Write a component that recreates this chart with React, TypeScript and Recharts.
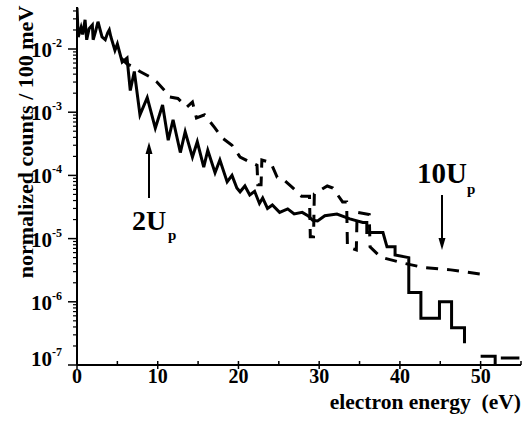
import { LineChart, Line, XAxis, YAxis } from "recharts";

// solid trace: energy (eV) and normalized counts
const solidEnergy = [
  0.0, 0.15, 0.5, 0.7, 1.0, 1.2, 1.5, 1.9, 2.0, 2.3, 2.6, 3.1, 3.5, 3.8, 4.0, 4.2, 4.7,
  5.0, 5.6, 6.2, 6.6, 7.1, 7.8, 8.7, 9.7, 10.6, 11.3, 11.9, 12.8, 13.4, 14.3, 14.9, 15.7,
  16.2, 17.1, 17.7, 18.6, 19.2, 19.8, 20.2, 20.8, 21.4, 22.0, 22.6, 23.0, 23.6, 24.2, 25.1,
  26.1, 26.9, 27.9, 28.6, 29.2, 29.8, 30.7, 32.2, 33.8, 35.4, 35.9, 35.9, 37.9, 38.4, 39.4,
  39.4, 41.1, 41.1, 42.6, 42.6, 44.9, 44.9, 46.4, 46.4, 48.0, 48.0, 48.1, 50.0, 51.8, 51.8,
  51.9, 52.5, 54.8,
];
const solidCounts = [
  4.5e-2, 1.55e-2, 2.2e-2, 1.7e-2, 2.9e-2, 1.4e-2, 2.1e-2, 2.4e-2, 1.4e-2, 1.9e-2, 2.7e-2,
  1.55e-2, 1.4e-2, 1.8e-2, 2.0e-2, 1.55e-2, 9.5e-3, 1.2e-2, 6.2e-3, 7.2e-3, 2.2e-3, 4.4e-3,
  9.1e-4, 1.7e-3, 5.6e-4, 1.3e-3, 3.6e-4, 7.6e-4, 2.3e-4, 4.9e-4, 1.95e-4, 3.4e-4, 1.35e-4,
  2.5e-4, 1.1e-4, 1.75e-4, 7.9e-5, 1.0e-4, 6.3e-5, 5.5e-5, 6.8e-5, 4.9e-5, 5.6e-5, 3.6e-5,
  4.4e-5, 3.0e-5, 3.4e-5, 2.6e-5, 2.95e-5, 2.45e-5, 2.6e-5, 2.3e-5, 1.95e-5, 1.9e-5, 2.3e-5,
  2.45e-5, 2.05e-5, 1.8e-5, 1.8e-5, 1.25e-5, 1.25e-5, 7.4e-6, 7.4e-6, 5.5e-6, 5.0e-6, 1.4e-6,
  1.4e-6, 5.5e-7, 5.5e-7, 1.0e-6, 1.0e-6, 3.9e-7, 3.9e-7, 2.2e-7, null, 1.38e-7, 1.38e-7,
  1.0e-7, null, 1.29e-7, 1.29e-7,
];

// dashed trace
const dashedEnergy = [
  5.5, 6.2, 7.0, 7.8, 8.9, 9.9, 11.0, 11.4, 12.5, 13.6, 14.3, 14.8, 15.8, 17.1, 18.0, 19.2,
  20.2, 21.5, 22.3, 22.4, 22.8, 22.9, 24.0, 24.8, 25.6, 26.6, 27.8, 28.8, 28.9, 29.3, 29.4,
  31.0, 31.7, 32.9, 33.4, 33.5, 34.6, 34.7, 36.2, 36.3, 37.6, 40.4, 42.9, 46.3, 49.9,
];
const dashedCounts = [
  7.1e-3, 5.8e-3, 5.2e-3, 4.4e-3, 3.7e-3, 3.0e-3, 2.1e-3, 1.75e-3, 1.65e-3, 1.2e-3, 1.45e-3,
  8.1e-4, 9.1e-4, 5.6e-4, 3.9e-4, 3.0e-4, 1.95e-4, 1.6e-4, 1.45e-4, 7.1e-5, 7.1e-5, 1.75e-4,
  1.6e-4, 9.3e-5, 8.5e-5, 6.6e-5, 4.7e-5, 4.7e-5, 1.07e-5, 1.07e-5, 5.1e-5, 6.8e-5, 6.3e-5,
  3.8e-5, 3.8e-5, 7.4e-6, 6.6e-6, 2.6e-5, 2.4e-5, 7.4e-6, 5.1e-6, 4.1e-6, 3.5e-6, 3.2e-6,
  2.75e-6,
];

const xMajor = [0, 10, 20, 30, 40, 50];
const xMinor = [5, 15, 25, 35, 45, 55];
const yMajor = [1e-7, 1e-6, 1e-5, 1e-4, 1e-3, 1e-2];
const yMinor = [
  2e-7, 3e-7, 4e-7, 5e-7, 6e-7, 7e-7, 8e-7, 9e-7,
  2e-6, 3e-6, 4e-6, 5e-6, 6e-6, 7e-6, 8e-6, 9e-6,
  2e-5, 3e-5, 4e-5, 5e-5, 6e-5, 7e-5, 8e-5, 9e-5,
  2e-4, 3e-4, 4e-4, 5e-4, 6e-4, 7e-4, 8e-4, 9e-4,
  2e-3, 3e-3, 4e-3, 5e-3, 6e-3, 7e-3, 8e-3, 9e-3,
  2e-2, 3e-2, 4e-2,
];

const solidData = solidEnergy.map((e, i) => ({ e, v: solidCounts[i] }));
const dashedData = dashedEnergy.map((e, i) => ({ e, v: dashedCounts[i] }));

const FONT = "'Liberation Serif', 'Times New Roman', serif";

const XTick = (props: any) => {
  const { x, y, payload } = props;
  const major = xMajor.includes(payload.value);
  return (
    <g>
      <line x1={x} x2={x} y1={y - 4} y2={major ? y + 4 : y} stroke="#000" strokeWidth={1.5} />
      {major && (
        <text x={x} y={y + 18} textAnchor="middle" fontFamily={FONT} fontWeight="bold" fontSize={20} fill="#000">
          {payload.value}
        </text>
      )}
    </g>
  );
};

const YTick = (props: any) => {
  const { x, y, payload } = props;
  const major = yMajor.includes(payload.value);
  if (!major) {
    return <line x1={x - 4} x2={x} y1={y} y2={y} stroke="#000" strokeWidth={1.2} />;
  }
  const exp = Math.round(Math.log10(payload.value));
  const base = exp === -7 ? y + 1 : y + 8;
  return (
    <g>
      <line x1={x - 9} x2={x} y1={y} y2={y} stroke="#000" strokeWidth={1.5} />
      <text x={x - 15} y={base} textAnchor="end" fontFamily={FONT} fontWeight="bold" fill="#000">
        <tspan fontSize={21}>10</tspan>
        <tspan fontSize={12} dy={-10}>{`-${-exp}`}</tspan>
      </text>
    </g>
  );
};

export default function App() {
  return (
    <div style={{ position: "absolute", left: 0, top: 0, width: 525, height: 423, background: "#fff" }}>
      <LineChart width={525} height={423} margin={{ top: 7, right: 4, left: 0, bottom: 0 }}>
        <XAxis
          type="number"
          dataKey="e"
          domain={[0, 55]}
          ticks={[...xMajor, ...xMinor].sort((a, b) => a - b)}
          interval={0}
          height={58}
          tickLine={false}
          tickSize={0}
          tickMargin={0}
          tick={<XTick />}
          axisLine={{ stroke: "#000", strokeWidth: 2 }}
          allowDataOverflow
        />
        <YAxis
          type="number"
          scale="log"
          domain={[1e-7, 0.0462]}
          ticks={[...yMajor, ...yMinor].sort((a, b) => a - b)}
          interval={0}
          width={77}
          tickLine={false}
          tickSize={0}
          tickMargin={0}
          tick={<YTick />}
          axisLine={{ stroke: "#000", strokeWidth: 2 }}
          allowDataOverflow
        />
        <Line
          data={dashedData}
          dataKey="v"
          type="linear"
          stroke="#000"
          strokeWidth={3}
          strokeDasharray="12 9"
          dot={false}
          isAnimationActive={false}
        />
        <Line
          data={solidData}
          dataKey="v"
          type="linear"
          stroke="#000"
          strokeWidth={3}
          dot={false}
          connectNulls={false}
          isAnimationActive={false}
        />
      </LineChart>
      <svg
        width={525}
        height={423}
        style={{ position: "absolute", left: 0, top: 0, pointerEvents: "none" }}
        fontFamily={FONT}
        fontWeight="bold"
      >
        <text transform="translate(33,142) rotate(-90)" textAnchor="middle" fontSize={22} fill="#000">
          normalized counts / 100 meV
        </text>
        <text x={521} y={409} textAnchor="end" fontSize={21.5} fill="#000" style={{ whiteSpace: "pre" }}>
          electron energy  (eV)
        </text>
        <line x1={149} x2={149} y1={150} y2={198} stroke="#000" strokeWidth={2} />
        <polygon points="149,142 145.5,154 152.5,154" fill="#000" />
        <text x={132} y={230} fontSize={28} fill="#000">2U</text>
        <text x={168} y={240} fontSize={15} fill="#000">p</text>
        <line x1={442} x2={442} y1={195} y2={242} stroke="#000" strokeWidth={2} />
        <polygon points="442,250 438.5,238 445.5,238" fill="#000" />
        <text x={417} y={183} fontSize={29} fill="#000">10U</text>
        <text x={467} y={194} fontSize={15} fill="#000">p</text>
      </svg>
    </div>
  );
}
